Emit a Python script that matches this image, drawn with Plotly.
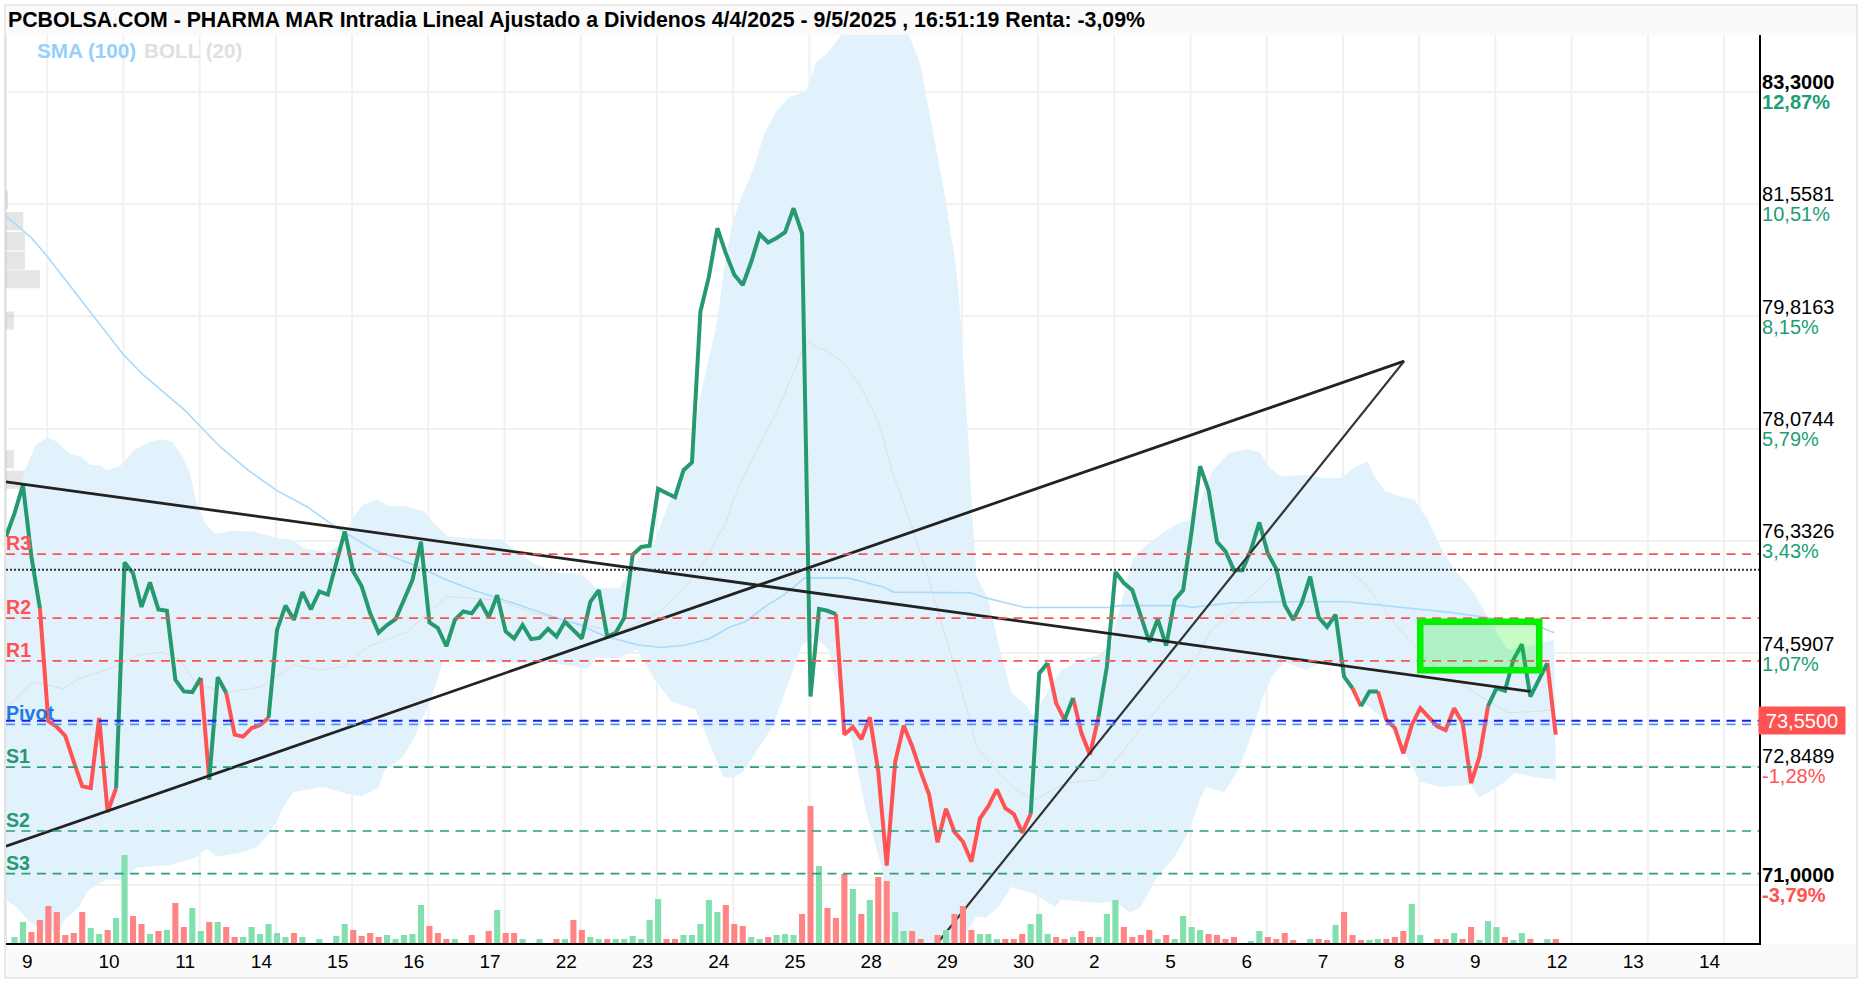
import plotly.graph_objects as go

# ---- chart text ----
title_text = "PCBOLSA.COM - PHARMA MAR Intradia Lineal Ajustado a Dividenos 4/4/2025 - 9/5/2025 , 16:51:19 Renta: -3,09%"
day_labels = ["9","10","11","14","15","16","17","22","23","24","25","28","29","30","2","5","6","7","8","9","12","13","14"]
price_ticks = [83.3, 81.5581, 79.8163, 78.0744, 76.3326, 74.5907, 72.8489, 71.0]
price_labels = ["83,3000","81,5581","79,8163","78,0744","76,3326","74,5907","72,8489","71,0000"]
pct_labels = ["12,87%","10,51%","8,15%","5,79%","3,43%","1,07%","-1,28%","-3,79%"]
bold_ticks = ["83,3000","71,0000"]

# ---- hourly close, one value per bar ----
close = [
 76.40,76.76,77.20,76.09,75.29,73.54,73.45,73.31,72.91,72.53,
 72.50,73.59,72.13,72.50,76.00,75.83,75.31,75.69,75.27,75.25,
 74.18,74.00,73.99,74.21,72.63,74.22,73.98,73.33,73.30,73.43,
 73.48,73.59,74.95,75.33,75.11,75.54,75.27,75.55,75.50,75.99,
 76.48,75.86,75.63,75.21,74.91,75.03,75.12,75.42,75.73,76.32,
 75.07,74.98,74.70,75.11,75.24,75.21,75.39,75.15,75.49,74.93,
 74.82,75.03,74.81,74.83,74.97,74.85,75.08,74.95,74.82,75.39,
 75.57,74.85,74.91,75.14,76.12,76.24,76.26,77.14,77.08,77.01,
 77.43,77.55,79.89,80.43,81.18,80.79,80.46,80.30,80.66,81.09,
 80.96,81.03,81.12,81.49,81.10,73.92,75.28,75.25,75.20,73.33,
 73.45,73.26,73.60,72.76,71.30,72.91,73.47,73.15,72.76,72.40,
 71.66,72.18,71.82,71.67,71.36,72.03,72.22,72.48,72.19,72.10,
 71.81,72.10,74.28,74.44,73.82,73.56,73.90,73.35,73.02,73.60,
 74.39,75.85,75.68,75.57,75.19,74.77,75.12,74.71,75.42,75.57,
 76.48,77.49,77.12,76.32,76.17,75.88,75.88,76.19,76.62,76.14,
 75.90,75.34,75.11,75.37,75.78,75.15,75.00,75.19,74.23,74.05,
 73.77,74.00,74.00,73.56,73.43,73.04,73.48,73.74,73.60,73.46,
 73.40,73.74,73.51,72.58,72.99,73.77,74.05,74.01,74.49,74.73,
 73.92,74.18,74.44,73.33]

# bar index at which the line colour changes, first run is green
colour_change_bars = [4,13,23,24,26,31,98,121,123,125,126,129,159,160,162,175,182]

# ---- volume per bar and up/down flag ----
volume = [
 0,6,21,11,23,37,31,8,10,31,
 15,9,13,25,88,27,19,9,12,13,
 40,16,35,12,21,21,16,6,6,16,
 9,19,10,6,10,6,0,4,0,7,
 19,13,7,10,6,8,4,8,9,38,
 17,10,4,4,0,8,0,12,33,10,
 10,4,0,4,0,4,4,23,13,6,
 4,4,4,4,7,4,23,44,4,4,
 8,8,19,43,31,38,19,17,6,4,
 6,8,9,8,29,137,77,35,25,69,
 54,29,43,66,62,31,12,12,4,0,
 8,13,29,37,13,9,9,4,4,4,
 9,19,29,9,6,4,6,12,6,6,
 29,43,16,6,8,13,4,8,4,27,
 16,13,9,8,4,6,0,2,12,6,
 4,10,3,0,4,4,3,18,31,8,
 3,3,4,4,6,12,39,8,0,4,
 4,10,4,16,3,22,16,6,3,10,
 4,0,4,4]
volume_dir = (
 "gggrrrrrrr" "ggrggrrgrg" "rrggrgrrgg" "ggggrggggg" "grrrrggggg"
 "rrrggrgrgr" "rggggrgrrg" "grggggggrr" "gggggrrrgg" "rgggrrgrrr"
 "grgrrggrrr" "rgrrrgggrr" "rgggrrgrrg" "ggrrrrgrgg" "ggrrrrgggr"
 "rrrggrrgrr" "rggrrrgggr" "rgrrgggrgg" "rggr")

# ---- Bollinger (20) ----
boll_upper_x = [0,1.2,2.1,3.5,4.9,6,7.7,8.8,10,11,12,13.5,15.1,17,18.4,19.6,20.7,21.7,22.4,23.5,24.7,26.8,29.1,31.9,33.8,35.2,37.9,39.8,40.8,42.1,43.8,45.2,47.3,49.4,50.5,52.2,55.2,58.5,60.3,62.2,65.4,67.8,68.7,69.7,72.4,73.8,75.2,76.6,77.5,79.4,81,81.9,83.9,84.7,85.7,86.8,88.3,89.5,90.9,92.4,94.5,95.7,96.8,98.7,101.2,104.2,106.6,108,109.3,110.9,112.2,112.7,113.6,114.1,114.6,116,117.3,118.7,120.4,121.3,123.6,124.6,127,129,130.6,131.1,133,134.4,136.6,138.5,139.9,140.7,141.6,142.5,144.5,146.6,148.1,149.2,150.5,153.4,155.7,157.6,159.3,160.8,161.6,162.8,164.7,166.3,167.9,169.4,171.1,173.4,175.3,177.3,179.4,182.8]
boll_upper = [76.50,76.87,77.39,77.82,77.94,77.87,77.67,77.64,77.51,77.51,77.43,77.50,77.74,77.87,77.91,77.87,77.67,77.39,76.97,76.61,76.44,76.49,76.48,76.38,76.35,76.22,76.15,76.30,76.66,76.89,76.97,76.87,76.87,76.79,76.61,76.40,76.37,76.36,76.17,75.99,75.83,75.83,75.73,75.60,75.60,75.88,76.15,76.30,76.66,77.28,77.59,78.52,79.68,80.46,81.23,81.65,82.11,82.63,82.98,83.20,83.32,83.76,83.87,84.18,84.50,84.60,84.18,83.71,82.78,81.65,80.58,79.81,78.01,76.71,75.78,75.42,74.69,73.99,73.79,73.62,74.13,74.33,74.49,74.57,74.75,75.06,76.04,76.24,76.46,76.61,76.66,76.81,77.17,77.43,77.70,77.76,77.70,77.47,77.33,77.36,77.31,77.31,77.48,77.57,77.33,77.11,77.02,76.97,76.66,76.24,75.88,75.53,75.06,74.65,74.69,74.80]
boll_lower_x = [0,1.2,2.8,4.4,6.2,6.9,8.6,9.8,11.9,13.7,15.5,19.3,22.4,23.7,24.9,27.7,29.6,31,31.9,32.9,33.9,37.5,40.3,42,44,44.7,46.8,48.2,49.9,50.8,51.7,55.2,59.9,64.5,68.7,69.7,72.4,74.5,76.6,78.6,81.4,82.9,84.7,85.9,87,90.5,92.4,94,95.5,97.1,100.1,101.5,103.4,104.8,112.5,113.6,114.6,115.7,117.2,118.7,121.1,123.9,124.6,129,131,132.7,134,135.7,138,139.6,141.1,141.7,143.9,145.5,146.9,148.3,149.5,150.9,153.6,155.5,157.6,159,160.4,162.3,164,165.4,167,169.3,173,174,176.8,178.2,180.1,183]
boll_lower = [70.77,70.66,70.43,70.28,70.26,70.46,70.66,70.93,71.08,71.08,71.27,71.31,71.42,71.56,71.44,71.50,71.59,71.78,71.98,72.24,72.44,72.52,72.41,72.37,72.51,72.79,72.97,73.28,73.79,74.13,74.49,74.46,74.44,74.44,74.35,74.52,74.52,74.65,74.18,73.84,73.72,73.25,72.68,72.66,72.75,73.45,74.13,74.72,74.85,74.65,73.10,72.17,71.28,69.90,69.90,70.31,70.51,70.49,70.66,70.97,70.88,70.66,70.77,70.72,70.74,70.57,70.66,71.08,71.44,71.81,72.37,72.51,72.44,72.79,73.25,73.87,74.23,74.46,74.33,74.46,74.38,74.03,73.82,73.61,73.44,72.99,72.60,72.52,72.55,72.35,72.58,72.74,72.68,72.63]
boll_mid_x = [0,1.3,3.2,6.7,8.7,12.2,15.8,18.5,20.5,22.6,26.3,30.1,31.9,34,37,39.8,42.7,47.3,52,58,62.2,67.3,72.4,77.1,80.3,82.6,85,85.9,88.2,91,93.1,94.5,95.7,96.8,98.9,100.8,103.1,104.6,107.1,109.1,110.8,113.4,114.6,117.2,119.2,121.5,125.1,129,130.4,134.5,139.6,142.3,147.8,150.2,158.4,160.4,164.3,168.2,173.5,177.3,181,183]
boll_mid = [73.75,73.90,74.15,74.04,74.20,74.35,74.57,74.61,74.49,74.10,73.99,74.07,74.23,74.41,74.33,74.38,74.69,74.92,75.47,75.42,75.22,75.06,74.92,75.22,75.62,76.04,76.61,76.97,77.64,78.32,78.98,79.45,79.33,79.29,79.09,78.75,78.16,77.43,76.50,75.68,74.91,73.76,73.14,72.74,72.48,72.32,72.58,72.63,72.83,73.51,74.29,74.95,75.57,75.88,75.88,75.68,75.00,74.44,73.98,73.67,73.69,73.72]

# ---- SMA (100) ----
sma_x = [0,3,4.9,8.7,13.8,16.1,21.1,25.3,28.6,31.9,35.6,38.9,43.5,48.2,52,55.2,59.9,64.5,67.8,70.8,72.4,74.7,77.4,80.3,83.1,85.5,87.3,89.6,91.9,94.3,99.4,103.6,104.8,111,113.9,115.7,120.4,130.1,131.6,139,139.9,144.6,150.5,158.4,164.3,170.2,174.1,180,182.8]
sma = [81.37,81.03,80.74,80.10,79.23,78.92,78.36,77.79,77.43,77.12,76.86,76.55,76.19,75.96,75.73,75.57,75.37,75.16,75.03,74.85,74.80,74.72,74.68,74.72,74.82,75.00,75.08,75.31,75.50,75.76,75.76,75.62,75.54,75.54,75.53,75.45,75.30,75.30,75.33,75.33,75.30,75.37,75.39,75.39,75.31,75.23,75.16,75.06,74.91]

# ---- volume profile along the price axis ----
profile_price = [81.62,81.29,80.98,80.68,80.39,79.75,77.60,77.28,76.40,76.07,75.78,75.47,75.17,74.84,74.55,74.24,73.93,73.63,73.32,72.99,72.69,72.37,72.07,71.77,71.15]
profile_size = [0.25,2.04,2.24,2.24,4.0,0.94,0.94,4.2,6.48,7.03,7.35,5.3,20.5,5.7,2.83,9.82,17.37,11.35,13.64,3.22,8.72,6.28,3.42,4.99,4.5]

# ---- pivot levels ----
level_names = ["R3","R2","R1","Pivot","S1","S2","S3"]
level_prices = [76.128,75.136,74.475,73.488,72.827,71.836,71.174]
dotted_level = 75.885
last_price = 73.545
last_label = "73,5500"

# ---- hand-drawn trend lines and box ----
trend_falling_x, trend_falling_y = [0,180], [77.25,74.00]
trend_rising_x, trend_rising_y = [0,165.1], [71.60,79.12]
trend_steep_x, trend_steep_y = [110,165.1], [70.10,79.12]
box_x, box_y = [167.0,181.05], [74.33,75.08]

# ---- style ----
GREEN, RED = "#27996F", "#FF5252"
VOL_G, VOL_R = "#80E0AE", "#FF8585"
FONT = "Liberation Sans, Arial, sans-serif"
W, H = 1858, 983
L, R, T, B = 6.0, 1759.0, 35.0, 943.3

def px(x):
    return (x - L) / (R - L)

def py(y):
    return 1 - (y - T) / (B - T)

BARS = list(range(len(close)))
assert len(volume) == len(close) == 184, (len(volume), len(close))
dirs = volume_dir
assert len(dirs) == len(volume), len(dirs)

fig = go.Figure()

fig.add_trace(go.Scatter(
    x=boll_upper_x + boll_lower_x[::-1], y=boll_upper + boll_lower[::-1],
    mode="lines", line=dict(width=0), fill="toself", fillcolor="#E1F2FD", hoverinfo="skip", name="BOLL (20)"))
fig.add_trace(go.Scatter(x=boll_mid_x, y=boll_mid, mode="lines", line=dict(color="#DEDEDE", width=1), hoverinfo="skip"))
fig.add_trace(go.Scatter(x=sma_x, y=sma, mode="lines", line=dict(color="#A9DAFB", width=1.6), name="SMA (100)", hoverinfo="skip"))
fig.add_trace(go.Bar(
    x=profile_size, y=profile_price, orientation="h", width=0.28, base=0,
    marker=dict(color="rgba(125,125,125,0.2)", line=dict(width=0)), hoverinfo="skip"))
fig.add_trace(go.Bar(
    x=BARS, y=volume, yaxis="y2", width=0.72,
    marker=dict(color=[VOL_G if d == "g" else VOL_R for d in dirs], line=dict(width=0)), hoverinfo="skip"))

# coloured close line
runs = [0] + colour_change_bars + [len(close) - 1]
xs = {GREEN: [], RED: []}
ys = {GREEN: [], RED: []}
for n in range(len(runs) - 1):
    c = GREEN if n % 2 == 0 else RED
    xs[c] += BARS[runs[n]:runs[n + 1] + 1] + [None]
    ys[c] += close[runs[n]:runs[n + 1] + 1] + [None]
for c in (RED, GREEN):
    fig.add_trace(go.Scatter(x=xs[c], y=ys[c], mode="lines", hoverinfo="skip",
                             line=dict(color=c, width=4, shape="linear")))

for tx, ty, w, col in [(trend_falling_x, trend_falling_y, 2.8, "#222222"),
                       (trend_rising_x, trend_rising_y, 2.8, "#222222"),
                       (trend_steep_x, trend_steep_y, 2.2, "#333333")]:
    fig.add_trace(go.Scatter(x=tx, y=ty, mode="lines", line=dict(color=col, width=w), hoverinfo="skip"))

shapes = []
# frame and strips
for x0, y0, x1, y1, fc in [(5, 5, 1857, 35, "#FAFAFA"), (5, 944, 1857, 978, "#FAFAFA")]:
    shapes.append(dict(type="rect", xref="paper", yref="paper", x0=px(x0), x1=px(x1), y0=py(y0), y1=py(y1),
                       fillcolor=fc, line=dict(width=0), layer="below"))
shapes.append(dict(type="rect", xref="paper", yref="paper", x0=px(5), x1=px(1857), y0=py(978), y1=py(5),
                   fillcolor="rgba(0,0,0,0)", line=dict(color="#E8E0E0", width=1.5), layer="below"))
shapes.append(dict(type="line", xref="paper", yref="paper", x0=px(5.5), x1=px(5.5), y0=py(944), y1=py(35),
                   line=dict(color="#E2E2E2", width=2.5), layer="below"))
# vertical day grid
for n in range(len(day_labels)):
    gx = 4.87 + 9 * n
    shapes.append(dict(type="line", xref="x", yref="paper", x0=gx, x1=gx, y0=0, y1=1,
                       line=dict(color="#F1F1F1", width=2), layer="below"))
# levels
for name, val in zip(level_names, level_prices):
    col = RED if name.startswith("R") else "#4A9BF0" if name == "Pivot" else "#2E9E78"
    shapes.append(dict(type="line", xref="paper", yref="y", x0=0, x1=1, y0=val, y1=val,
                       line=dict(color=col, width=1.7, dash="9px,6.5px")))
shapes.append(dict(type="line", xref="paper", yref="y", x0=0, x1=1, y0=last_price, y1=last_price,
                   line=dict(color="#1C1CF0", width=2.2, dash="9px,6.5px")))
shapes.append(dict(type="line", xref="paper", yref="y", x0=0, x1=1, y0=dotted_level, y1=dotted_level,
                   line=dict(color="#333333", width=2, dash="2px,2px")))
shapes.append(dict(type="rect", xref="x", yref="y", x0=box_x[0], x1=box_x[1], y0=box_y[0], y1=box_y[1],
                   fillcolor="rgba(0,240,0,0.22)", line=dict(color="#00F000", width=6.5)))

annotations = [
    dict(text="SMA (100)", xref="paper", yref="paper", x=px(34.5), y=py(51), xanchor="left", yanchor="middle",
         showarrow=False, font=dict(family=FONT, size=20.7, color="#93D1FB", weight="bold")),
    dict(text="BOLL (20)", xref="paper", yref="paper", x=px(142), y=py(51), xanchor="left", yanchor="middle",
         showarrow=False, font=dict(family=FONT, size=20.7, color="#E0E0E0", weight="bold")),
    dict(text=last_label, xref="paper", yref="y", x=px(1758), y=last_price, xanchor="left", yanchor="middle",
         showarrow=False, width=86, height=27, bgcolor="#FF5252", borderpad=0,
         font=dict(family=FONT, size=20, color="#FFFFFF")),
]
for name, val in zip(level_names, level_prices):
    col = RED if name.startswith("R") else "#2479DE" if name == "Pivot" else "#27996F"
    annotations.append(dict(text=name, xref="paper", yref="y", x=0, y=val, xanchor="left", yanchor="bottom",
                            showarrow=False, borderpad=0, xshift=-1, yshift=-1,
                            font=dict(family=FONT, size=19.6, color=col, weight="bold")))

def tick_label(price, pct):
    b0, b1 = ("<b>", "</b>") if price in bold_ticks else ("", "")
    pct_col = "#FF5252" if pct.startswith("-") else "#1E9E74"
    return (f'<span style="font-size:20px;color:#000000">{b0}{price}{b1}</span><br>'
            f'<span style="font-size:20px;color:{pct_col}">{b0}{pct}{b1}</span>')

label_bars = [4.87 + 9 * n - (2.36 if len(d) == 1 else 1.71) for n, d in enumerate(day_labels)]

fig.update_layout(
    width=W, height=H, autosize=False,
    margin=dict(l=L, r=W - R, t=T, b=H - B, pad=0),
    paper_bgcolor="white", plot_bgcolor="white",
    showlegend=False, barmode="overlay", hovermode=False,
    font=dict(family=FONT, color="#000000"),
    title=dict(text=f"<b>{title_text}</b>", xref="container", yref="container", x=8 / W, xanchor="left",
               y=1 - 20 / H, yanchor="middle", pad=dict(l=0, r=0, t=0, b=0),
               font=dict(family=FONT, size=21.3, color="#000000")),
    xaxis=dict(range=[0, 207], tickmode="array", tickvals=label_bars, ticktext=day_labels,
               showgrid=False, zeroline=False, showline=True, linecolor="#000000", linewidth=2,
               ticks="", tickfont=dict(family=FONT, size=19, color="#000000"), tickangle=0),
    yaxis=dict(side="right", range=[70.10, 84.176], tickmode="array", tickvals=price_ticks,
               ticktext=[tick_label(a, b) for a, b in zip(price_labels, pct_labels)],
               showgrid=True, gridcolor="#F1F1F1", gridwidth=2, zeroline=False,
               showline=True, linecolor="#000000", linewidth=2, ticks="",
               ticklabelstandoff=-2, ticklabelshift=2,
               tickfont=dict(family=FONT, size=15.4, color="#000000")),
    yaxis2=dict(overlaying="y", side="left", range=[0, 908.3], visible=False, showgrid=False, zeroline=False),
    shapes=shapes, annotations=annotations,
)

fig.write_html("out.html", config=dict(displayModeBar=False),
               post_script="document.body.style.margin='0';document.body.style.overflow='hidden';")
